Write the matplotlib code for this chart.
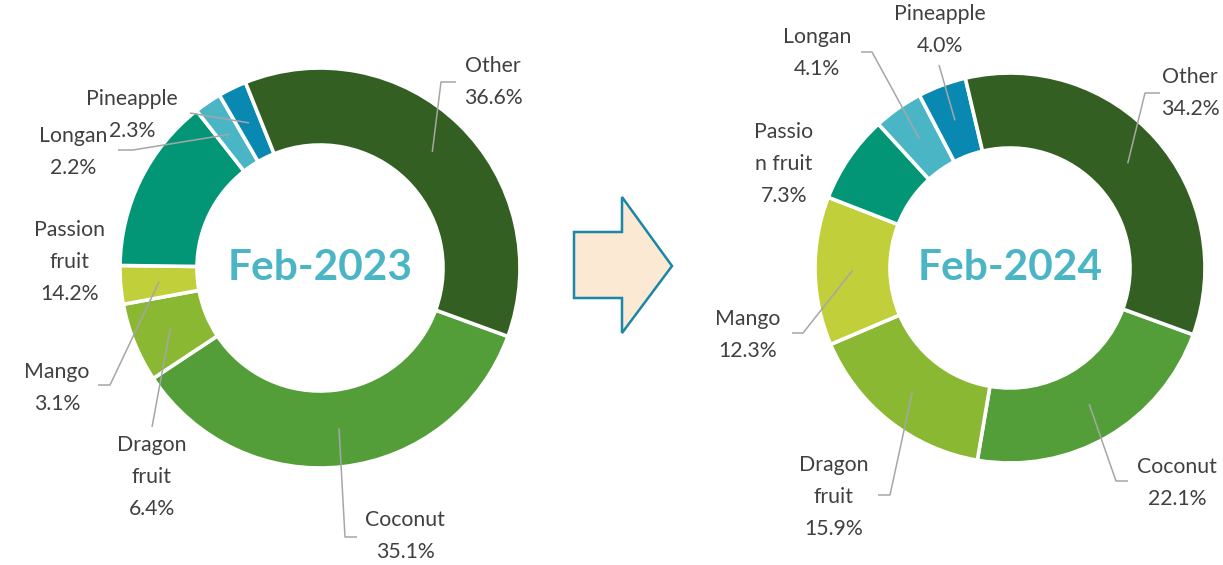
import matplotlib
matplotlib.use("Agg")
import matplotlib.pyplot as plt
from matplotlib.patches import Polygon
import numpy as np

# data (clockwise from the first slice)
fruits = ["Coconut", "Dragon fruit", "Mango", "Passion fruit", "Longan", "Pineapple", "Other"]
share_2023 = [35.1, 6.4, 3.1, 14.2, 2.2, 2.3, 36.6]
share_2024 = [22.1, 15.9, 12.3, 7.3, 4.1, 4.0, 34.2]
titles = ["Feb-2023", "Feb-2024"]

# label names as they wrap in the chart
names_2023 = ["Coconut", "Dragon\nfruit", "Mango", "Passion\nfruit", "Longan", "Pineapple", "Other"]
names_2024 = ["Coconut", "Dragon\nfruit", "Mango", "Passio\nn fruit", "Longan", "Pineapple", "Other"]

colors = ["#549E39", "#8AB833", "#C0CF3A", "#029676", "#4AB5C4", "#0989B1", "#335F23"]

W, H = 1223, 565
fig = plt.figure(figsize=(W / 100, H / 100), dpi=100)
ax = fig.add_axes([0, 0, 1, 1])

def Y(y):
    # image y (top-down) -> axes y
    return H - y

FONT = "Lato"
TXT = "#404040"
LINE = "#A6A6A6"

# layout: donut centre/radius, label centre, leader elbow points (image pixels)
layouts = [
    dict(center=(320, 268), r=200, r_in=123,
         labels=[(405, 536), (152, 477), (57, 388), (70, 262), (73, 152), (132, 115), (493, 82)],
         elbows=[[(345, 537), (357, 537)], [(152, 427)], [(110, 385), (98, 385)], None,
                 [(133, 150), (118, 150)], [(190, 113)], [(441, 82), (456, 82)]]),
    dict(center=(1010, 268), r=195, r_in=120,
         labels=[(1177, 483), (834, 497), (748, 335), (784, 164), (817, 53), (940, 30), (1190, 93)],
         elbows=[[(1116, 481), (1128, 481)], [(890, 495), (878, 495)], [(803, 333), (792, 333)], None,
                 [(872, 52), (861, 52)], [(939, 65)], [(1145, 93), (1160, 93)]]),
]

for vals, names, title, lay in zip([share_2023, share_2024], [names_2023, names_2024], titles, layouts):
    cx, cy = lay["center"]
    wedges, _ = ax.pie(vals, colors=colors, radius=lay["r"], center=(cx, Y(cy)),
                       startangle=-20, counterclock=False, frame=True,
                       wedgeprops=dict(width=lay["r"] - lay["r_in"], edgecolor="white", linewidth=2.6))
    rm = (lay["r"] + lay["r_in"]) / 2
    for w, v, nm, lpos, elb in zip(wedges, vals, names, lay["labels"], lay["elbows"]):
        ax.text(lpos[0], Y(lpos[1]), f"{nm}\n{v:.1f}%", ha="center", va="center",
                fontsize=15.3, family=FONT, color=TXT, linespacing=1.72)
        if elb is None:
            continue
        ang = np.deg2rad((w.theta1 + w.theta2) / 2)
        x0, y0 = cx + rm * np.cos(ang), Y(cy) + rm * np.sin(ang)
        xs = [x0] + [p[0] for p in elb]
        ys = [y0] + [Y(p[1]) for p in elb]
        ax.plot(xs, ys, color=LINE, lw=1.1, solid_capstyle="butt")
    ax.text(cx, Y(cy), title, ha="center", va="center", fontsize=30.5, fontweight="bold",
            family=FONT, color="#4AB5C4")

# block arrow between the two donuts
arrow = [(574, 232), (622, 232), (622, 197), (672, 266), (622, 333), (622, 298), (574, 298)]
ax.add_patch(Polygon([(x, Y(y)) for x, y in arrow], closed=True, facecolor="#FBE9D3",
                     edgecolor="#1A86A8", linewidth=1.8, joinstyle="miter"))

ax.set_xlim(0, W)
ax.set_ylim(0, H)
ax.set_aspect("equal")
ax.axis("off")

fig.savefig("out.png", dpi=100, facecolor="white")
